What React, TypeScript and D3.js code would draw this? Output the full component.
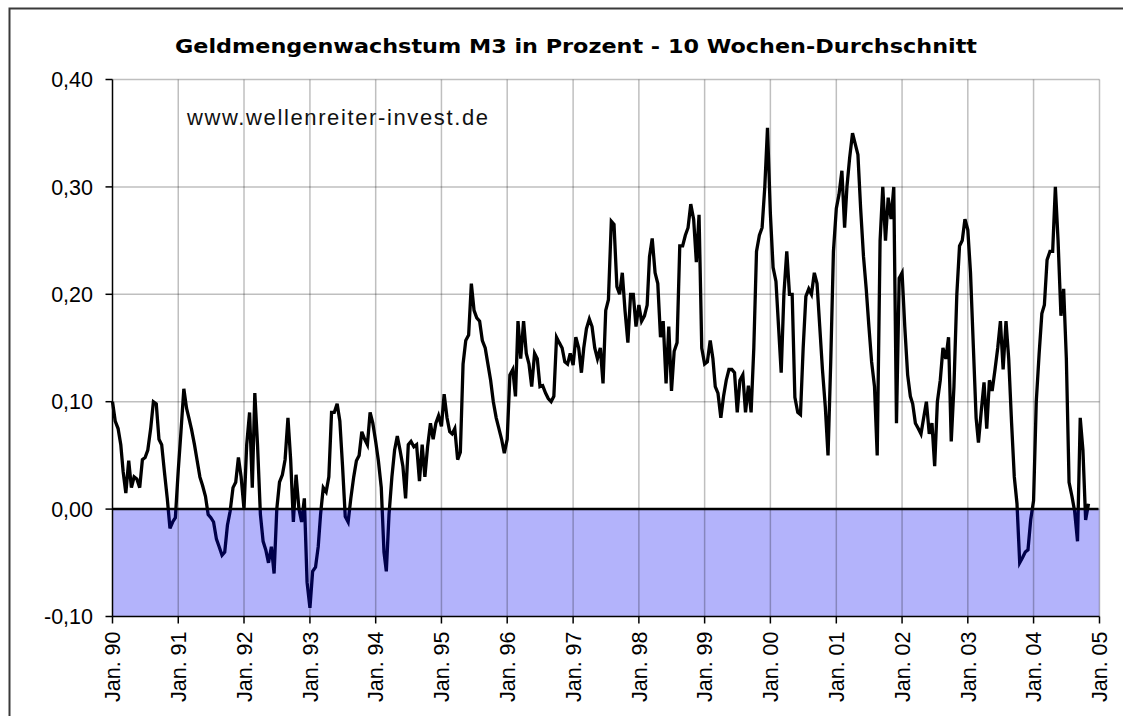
import * as d3 from "d3";

// semi-monthly readings (1st and 16th of each month), M3 growth 10-week average
const y1990 = [0.100, 0.082, 0.075, 0.060, 0.035, 0.015, 0.045, 0.020, 0.030, 0.028, 0.020, 0.046, 0.048, 0.055, 0.075, 0.100, 0.098, 0.065, 0.060, 0.035, 0.010, -0.018, -0.012, -0.008];
const y1991 = [0.036, 0.072, 0.112, 0.094, 0.085, 0.074, 0.060, 0.045, 0.030, 0.022, 0.012, -0.005, -0.008, -0.012, -0.028, -0.035, -0.043, -0.040, -0.015, -0.002, 0.020, 0.025, 0.048, 0.030];
const y1992 = [0.000, 0.060, 0.090, 0.020, 0.108, 0.060, -0.005, -0.030, -0.038, -0.050, -0.035, -0.060, 0.000, 0.025, 0.032, 0.046, 0.085, 0.046, -0.012, 0.032, 0.000, -0.012, 0.010, -0.068];
const y1993 = [-0.092, -0.058, -0.054, -0.035, -0.005, 0.020, 0.016, 0.030, 0.090, 0.090, 0.098, 0.082, 0.040, -0.007, -0.012, 0.010, 0.030, 0.045, 0.050, 0.072, 0.065, 0.060, 0.090, 0.080];
const y1994 = [0.063, 0.045, 0.020, -0.040, -0.058, -0.005, 0.030, 0.055, 0.068, 0.055, 0.040, 0.010, 0.060, 0.063, 0.058, 0.060, 0.026, 0.060, 0.030, 0.058, 0.080, 0.065, 0.080, 0.087];
const y1995 = [0.077, 0.107, 0.085, 0.072, 0.070, 0.075, 0.046, 0.053, 0.135, 0.157, 0.162, 0.210, 0.185, 0.178, 0.175, 0.157, 0.150, 0.135, 0.120, 0.100, 0.085, 0.075, 0.065, 0.052];
const y1996 = [0.065, 0.125, 0.130, 0.105, 0.175, 0.140, 0.175, 0.145, 0.135, 0.114, 0.145, 0.140, 0.114, 0.115, 0.108, 0.103, 0.100, 0.105, 0.160, 0.155, 0.150, 0.137, 0.135, 0.145];
const y1997 = [0.134, 0.160, 0.150, 0.127, 0.150, 0.168, 0.177, 0.170, 0.150, 0.140, 0.150, 0.117, 0.185, 0.195, 0.268, 0.265, 0.207, 0.200, 0.220, 0.185, 0.155, 0.200, 0.200, 0.170];
const y1998 = [0.190, 0.175, 0.180, 0.190, 0.235, 0.252, 0.220, 0.210, 0.160, 0.175, 0.117, 0.170, 0.110, 0.147, 0.155, 0.245, 0.245, 0.255, 0.262, 0.284, 0.270, 0.230, 0.274, 0.150];
const y1999 = [0.135, 0.137, 0.157, 0.140, 0.114, 0.108, 0.085, 0.105, 0.120, 0.130, 0.130, 0.127, 0.090, 0.120, 0.125, 0.090, 0.115, 0.090, 0.150, 0.240, 0.255, 0.262, 0.300, 0.355];
const y2000 = [0.275, 0.225, 0.212, 0.168, 0.127, 0.200, 0.240, 0.200, 0.200, 0.104, 0.090, 0.088, 0.150, 0.198, 0.205, 0.200, 0.220, 0.210, 0.170, 0.130, 0.095, 0.050, 0.137, 0.240];
const y2001 = [0.280, 0.293, 0.315, 0.262, 0.300, 0.327, 0.350, 0.340, 0.330, 0.280, 0.235, 0.205, 0.170, 0.137, 0.114, 0.050, 0.250, 0.300, 0.250, 0.290, 0.270, 0.300, 0.080, 0.215];
const y2002 = [0.220, 0.170, 0.125, 0.105, 0.098, 0.080, 0.075, 0.070, 0.085, 0.100, 0.070, 0.080, 0.040, 0.100, 0.120, 0.150, 0.140, 0.160, 0.063, 0.114, 0.200, 0.245, 0.250, 0.270];
const y2003 = [0.260, 0.220, 0.150, 0.085, 0.062, 0.090, 0.118, 0.075, 0.120, 0.110, 0.130, 0.150, 0.175, 0.130, 0.175, 0.140, 0.080, 0.030, 0.005, -0.050, -0.045, -0.040, -0.038, -0.010];
const y2004 = [0.008, 0.100, 0.145, 0.182, 0.190, 0.232, 0.240, 0.240, 0.300, 0.250, 0.180, 0.205, 0.140, 0.025, 0.012, -0.002, -0.030, 0.085, 0.055, -0.010, 0.005];

const years = [1990, 1991, 1992, 1993, 1994, 1995, 1996, 1997, 1998, 1999, 2000, 2001, 2002, 2003, 2004];
const yearValues = [y1990, y1991, y1992, y1993, y1994, y1995, y1996, y1997, y1998, y1999, y2000, y2001, y2002, y2003, y2004];

const yTicks = [-0.1, 0, 0.1, 0.2, 0.3, 0.4];
const xTickYears = [1990, 1991, 1992, 1993, 1994, 1995, 1996, 1997, 1998, 1999, 2000, 2001, 2002, 2003, 2004, 2005];

const title = "Geldmengenwachstum M3 in Prozent - 10 Wochen-Durchschnitt";
const watermark = "www.wellenreiter-invest.de";

const W = 1123;
const H = 716;
const left = 112.5;
const right = 1099.5;
const top = 79.5;
const bottom = 616.5;
const font = "'Liberation Sans', Arial, sans-serif";

type Pt = { date: Date; value: number };

const points: Pt[] = years.flatMap((yr, k) =>
  yearValues[k].map((v, i) => ({
    date: new Date(yr, Math.floor(i / 2), i % 2 === 0 ? 1 : 16),
    value: v,
  }))
);

const de = d3.formatLocale({
  decimal: ",",
  thousands: ".",
  grouping: [3],
  currency: ["", " €"],
  minus: "-",
});
const fmtY = de.format(".2f");
const fmtX = d3.timeFormat("%y");

export default function App() {
  const x = d3
    .scaleTime()
    .domain([new Date(1990, 0, 1), new Date(2005, 0, 1)])
    .range([left, right]);
  const y = d3.scaleLinear().domain([-0.1, 0.4]).range([bottom, top]);

  const line = d3
    .line<Pt>()
    .x((d) => x(d.date))
    .y((d) => y(d.value));
  const path = line(points) || "";

  const xTicks = xTickYears.map((yr) => new Date(yr, 0, 1));
  const grid = "rgba(0,0,0,0.25)";

  return (
    <svg
      width={W}
      height={H}
      style={{ position: "absolute", left: 0, top: 0, display: "block", background: "#fff" }}
      fontFamily={font}
    >
      <defs>
        <clipPath id="above">
          <rect x={left - 5} y={top - 10} width={right - left + 10} height={y(0) - top + 10} />
        </clipPath>
        <clipPath id="below">
          <rect x={left - 5} y={y(0)} width={right - left + 10} height={bottom - y(0) + 5} />
        </clipPath>
      </defs>

      {/* outer chart frame */}
      <rect x={9.5} y={8.5} width={1140} height={740} fill="none" stroke="#3a3a3a" strokeWidth={2} />

      <text
        x={175}
        y={53}
        fontSize={20}
        fontWeight="bold"
        fontFamily="'DejaVu Sans', Verdana, sans-serif"
        textLength={802}
        lengthAdjust="spacingAndGlyphs"
        fill="#000"
      >
        {title}
      </text>

      {/* negative zone */}
      <rect x={left} y={y(0)} width={right - left} height={y(-0.1) - y(0)} fill="#b3b3fb" />

      {/* grid */}
      {yTicks.filter((t) => t > -0.1).map((t) => (
        <line key={"gy" + t} x1={left} x2={right} y1={y(t)} y2={y(t)} stroke={grid} strokeWidth={1.5} />
      ))}
      {xTicks.slice(1).map((d) => (
        <line key={"gx" + d.getFullYear()} x1={x(d)} x2={x(d)} y1={top} y2={bottom} stroke={grid} strokeWidth={1.5} />
      ))}

      <text x={187} y={125} fontSize={22} textLength={301} lengthAdjust="spacing" fill="#111">
        {watermark}
      </text>

      {/* series */}
      <path d={path} fill="none" stroke="#000" strokeWidth={3.3} clipPath="url(#above)" />
      <path d={path} fill="none" stroke="#00004a" strokeWidth={3.3} clipPath="url(#below)" />

      {/* zero line */}
      <line x1={left} x2={right - 1} y1={y(0)} y2={y(0)} stroke="#000" strokeWidth={2.5} />

      {/* axes */}
      <line x1={left} x2={left} y1={top} y2={bottom} stroke="#000" strokeWidth={1.5} />
      <line x1={left} x2={right} y1={bottom} y2={bottom} stroke="#000" strokeWidth={1.5} />

      {yTicks.map((t) => (
        <g key={"ty" + t}>
          <line x1={left - 7} x2={left} y1={y(t)} y2={y(t)} stroke="#000" strokeWidth={1.5} />
          <text x={93} y={y(t)} dy="0.36em" textAnchor="end" fontSize={21.5} fill="#000">
            {fmtY(t)}
          </text>
        </g>
      ))}

      {xTicks.map((d) => (
        <g key={"tx" + d.getFullYear()}>
          <line x1={x(d)} x2={x(d)} y1={bottom} y2={bottom + 7} stroke="#000" strokeWidth={1.5} />
          <text
            transform={`translate(${x(d)},${bottom + 15}) rotate(-90)`}
            dy="0.36em"
            textAnchor="end"
            fontSize={21.5}
            fill="#000"
          >
            {"Jan. " + fmtX(d)}
          </text>
        </g>
      ))}
    </svg>
  );
}
